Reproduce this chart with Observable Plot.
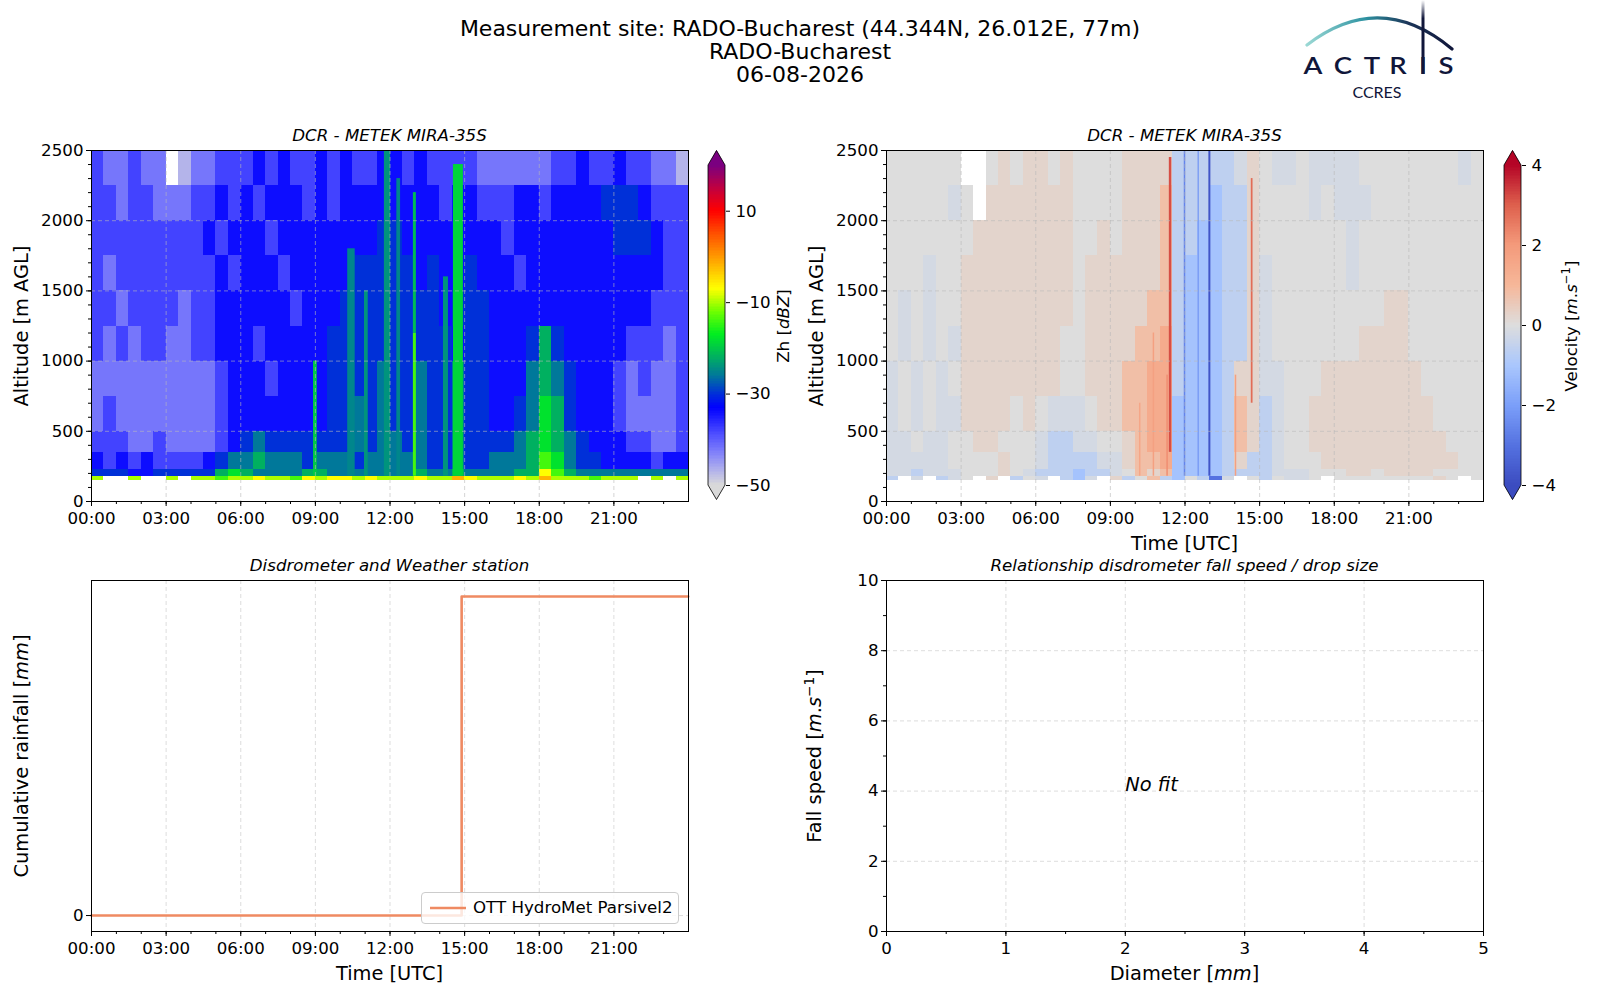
<!DOCTYPE html>
<html>
<head>
<meta charset="utf-8">
<script src="https://cdn.jsdelivr.net/npm/d3@7"></script>
<script src="https://cdn.jsdelivr.net/npm/@observablehq/plot@0.6"></script>
<style>
html,body{margin:0;padding:0;background:#fff;}
#root{position:relative;width:1600px;height:1000px;overflow:hidden;font-family:"DejaVu Sans",sans-serif;color:#000;}
#root svg{max-width:none;}
.lbl{position:absolute;white-space:nowrap;line-height:1;}
sup{font-size:0.7em;vertical-align:0.55em;line-height:0;}
</style>
</head>
<body>
<div id="root"></div>
<script>
// ================= DATA =================
const titleLines = ["Measurement site: RADO-Bucharest (44.344N, 26.012E, 77m)", "RADO-Bucharest", "06-08-2026"];
const radarTitle = "DCR - METEK MIRA-35S";
const rainTitle = "Disdrometer and Weather station";
const fitTitle = "Relationship disdrometer fall speed / drop size";
const logoLetters = ["A", "C", "T", "R", "I", "S"];
const logoSub = "CCRES";

// radar grid: 48 half-hour columns, altitude bands (m AGL)
const timeStep = 0.5;
const altitudeEdges = [150, 180, 230, 350, 500, 750, 1000, 1250, 1500, 1750, 2000, 2250, 2500];

// reflectivity codes (dBZ); "." = no signal
const zhCodes = {a: -47, b: -42, c: -38, d: -34, e: -30, f: -26, g: -22, h: -18, i: -14, j: -10, k: -7, l: -2};
// rows from top (2250-2500 m) to bottom (150-180 m); groups of 3 h
const zhRows = [
  "cbbcbb .abbcc cdcdcc dcdccd dcdccc cbbbbb bccdcc dccbba",
  "ccbccb bbccdc dcdddc dcdddd ddddcd dcccdd cdddde eedccc",
  "cccccc cccdcd ddcddd ddddde eddddd dddcdd dddddd eeedcc",
  "cbcccc ccccdc dddcdd dddeee eededd edddcd dddddd ddddcc",
  "ccbccc cbccdd ddddcd ddeeee eeeede eedddd dddddd dddccc",
  "cbcbcc bbccdd dcdddd deeeee eeeeed eeddde gedddd dcccbc",
  "bbbbbb bbbbcd ddcddd deeeef eefeef eedddf gfeddd cbcbbc",
  "bcbbbb bbbbcd dddddd deefef eefeef eeddef hgeddd cbbbbc",
  "cccbbc bbbbcd efeeee eeefef fefeef eeeefg hgfedd dccbbc",
  "dcdcdc cccdef fgfffe fffeff fffeef eefffg ihfeed dddcdd",
  "eeedde eeeegh gffffg gfffff ffgffg ffffgg kigfff ffffff",
  "j..j.. j.jjij jkjjik jkkjkj jjkjjl kjjjkj ljjjij jj.j.j"
];
// narrow reflectivity streaks: centre time (h), width (h), base (m), top (m), dBZ
const zhStreakTime   = [9.0,  10.45, 11.05, 11.9, 12.35, 13.0, 13.0, 14.25, 14.75];
const zhStreakWidth  = [0.15, 0.3,   0.15,  0.25, 0.15,  0.12, 0.12, 0.2,   0.4];
const zhStreakBase   = [180,  180,   180,   180,  180,   180,  1200, 180,   180];
const zhStreakTop    = [1000, 1800,  1500,  2500, 2300,  1200, 2200, 1600,  2400];
const zhStreakValue  = [-20,  -25,   -24,   -24,  -25,   -14,  -21,  -24,   -19];

// Doppler velocity codes (m/s)
const velCodes = {A: -4, B: -3, C: -2, D: -1.1, E: -0.6, F: -0.2, G: 0, H: 0.25, I: 0.8, J: 1.4, K: 2.2, L: 3, M: 4};
const velRows = [
  "GGGGGG ..GHGH HGHGGG GHHHHE EEEEFH GFFGFF FFGGGG GGGGFG",
  "GGGGGF G.HHHH HHHGGG GHHHIE EEDEEH GGGGFG FFFGGG GGGGGG",
  "GGGGGG GHHHHH HHHGGH GHHHIE EDDEEH GGGGGG GFGGGG GGGGGG",
  "GGGFGG HHHHHH HHHGHH HHHHIE DDDEEH FGGGGG GFGGGG GGGGGG",
  "GFGFGG HHHHHH HHHGHH HHHIIE DDDEEH FGGGGG GGGGHH GGGGGG",
  "GFGFGF HHHHHH HHGGHH HHIIJE DDDEEH FGGGGG GGHHHH GGGGGG",
  "FGFGFG HHHHHH HHGGHH HIIJJE DDDEHH FFGGGH HHHHHH HGGGGG",
  "FGFGFF HHHHGH GFFFGH HIIJJD DDDEIH EFGGHH HHHHHH HHGGGG",
  "FFGFFG GHHGGG FEEFFG GHIJJD DDDEIH EFGGHH HHHHHH HHHGGG",
  "FFFFFG GGGHGG FEEEEF FHIIJD DDDEHE EFGGGH HHHHHH HHHHGG",
  "FFEFFF GGGHGF EEEDEE FGIHID DDDEEE EFFFGG GHHGHH HHGGGG",
  "E.F.EF G.H.EG F.EDF. HEGIED GEBF.G EGFFG. GGGGGG GGHG.G"
];
// narrow velocity streaks: centre time (h), width (h), base (m), top (m), m/s
const velStreakTime  = [11.42, 11.3, 10.75, 10.2, 13.0, 12.0, 12.55, 14.7, 14.05];
const velStreakWidth = [0.1,   0.06, 0.06,  0.06, 0.08, 0.06, 0.05,  0.07, 0.06];
const velStreakBase  = [350,   180,  180,   180,  180,  180,  180,   700,  180];
const velStreakTop   = [2450,  900,  1200,  700,  2500, 2500, 2500,  2300, 900];
const velStreakValue = [3.2,   2.2,  1.8,   1.6,  -3.8, -2.6, -2.2,  2.8,  1.8];

// colour maps
const zhStops  = [-50, -47, -43, -39, -35, -33, -30, -26, -22, -17, -12, -9, -7, 0, 5, 10, 15, 20];
const zhColors = ["#d9d9d9", "#b4b4ea", "#8282fa", "#5050ff", "#1a1aff", "#0000ff", "#0030d8", "#00789a", "#00b060",
                  "#00ee20", "#70ff00", "#c8ff00", "#ffff00", "#ff9800", "#ff5000", "#ff0000", "#c00040", "#7a0080"];
const velStops  = [-4, -3, -2, -1, 0, 1, 2, 3, 4];
const velColors = ["#3b4cc0", "#5572e1", "#7b9ff9", "#aac7fd", "#dddddd", "#f6b799", "#f49a7b", "#de604d", "#b40426"];
const zhTicks = [-50, -30, -10, 10];
const velTicks = [-4, -2, 0, 2, 4];

// axes ticks
const hourTicks = [0, 3, 6, 9, 12, 15, 18, 21];
const hourMinor = [0,1,2,3,4,5,6,7,8,9,10,11,12,13,14,15,16,17,18,19,20,21,22,23];
const altTicks = [0, 500, 1000, 1500, 2000, 2500];
const altGrid = [500, 1000, 1500, 2000];
const altMinorStep = 100;
const diamTicks = [0, 1, 2, 3, 4, 5];
const diamMinor = [0, 0.5, 1, 1.5, 2, 2.5, 3, 3.5, 4, 4.5, 5];
const speedTicks = [0, 2, 4, 6, 8, 10];
const speedMinor = [0, 1, 2, 3, 4, 5, 6, 7, 8, 9, 10];

// cumulative rainfall (mm)
const rainTime = [0, 14.88, 23.99];
const rainCum  = [0, 0.2, 0.2];
const rainLabel = "OTT HydroMet Parsivel2";
const rainColor = "#ef8a62";

// fall-speed panel annotation
const noFitText = "No fit";
const noFitDiameter = 2;
const noFitSpeed = 4;

// ================= HELPERS =================
const root = document.getElementById("root");
const FONT = '"DejaVu Sans", sans-serif';
const TICK_FS = 16.67, LABEL_FS = 19.4;
const hourFmt = d => String(d).padStart(2, "0") + ":00";
const numFmt = d => (d < 0 ? "\u2212" + (-d) : String(d));

function place(el, left, top) {
  el.style.position = "absolute";
  el.style.left = left + "px";
  el.style.top = top + "px";
  root.appendChild(el);
  return el;
}
function label(html, cx, cy, size, opts = {}) {
  const d = document.createElement("div");
  d.className = "lbl";
  d.innerHTML = html;
  d.style.left = cx + "px";
  d.style.top = cy + "px";
  d.style.fontSize = size + "px";
  d.style.fontStyle = opts.italic ? "italic" : "normal";
  d.style.transform = "translate(-50%,-50%)" + (opts.rotate ? " rotate(-90deg)" : "");
  root.appendChild(d);
  return d;
}

function cellsFrom(rows, codes) {
  const cells = [];
  const n = rows.length;
  rows.forEach((row, r) => {
    const s = row.replace(/ /g, "");
    const k = n - 1 - r;
    const a1 = altitudeEdges[k], a2 = altitudeEdges[k + 1];
    for (let i = 0; i < s.length; i++) {
      const ch = s[i];
      if (!(ch in codes)) continue;
      cells.push({t1: i * timeStep, t2: (i + 1) * timeStep, a1, a2, v: codes[ch]});
    }
  });
  return cells;
}
function streaksFrom(time, width, base, top, value) {
  return time.map((tc, i) => ({t1: tc - width[i] / 2, t2: tc + width[i] / 2, a1: base[i], a2: top[i], v: value[i]}));
}

function makeInterp(stops, colors) {
  const s = d3.scaleLinear().domain(stops).range(colors).interpolate(d3.interpolateRgb).clamp(true);
  const lo = stops[0], hi = stops[stops.length - 1];
  return t => s(lo + t * (hi - lo));
}
const zhInterp = makeInterp(zhStops, zhColors);
const velInterp = makeInterp(velStops, velColors);

const baseStyle = {fontFamily: FONT, fontSize: TICK_FS + "px", color: "black", background: "transparent", overflow: "visible"};
const gridHeat = {stroke: "#b8b8b8", strokeOpacity: 0.75, strokeDasharray: "4,3", strokeWidth: 0.8};
const gridPlain = {stroke: "#d4d4d4", strokeOpacity: 1, strokeDasharray: "4,3", strokeWidth: 0.8};
const altMinor = [];
for (let a = 0; a <= 2500; a += altMinorStep) altMinor.push(a);

function heatPlot(cells, streaks, lo, hi, interp) {
  return Plot.plot({
    width: 700, height: 431,
    marginLeft: 91, marginRight: 12, marginTop: 40, marginBottom: 40,
    style: baseStyle,
    x: {domain: [0, 24]},
    y: {domain: [0, 2500]},
    color: {type: "linear", domain: [lo, hi], interpolate: interp},
    marks: [
      Plot.rect(cells, {x1: "t1", x2: "t2", y1: "a1", y2: "a2", fill: "v", shapeRendering: "crispEdges"}),
      Plot.rect(streaks, {x1: "t1", x2: "t2", y1: "a1", y2: "a2", fill: "v"}),
      Plot.gridX(hourTicks.slice(1), gridHeat),
      Plot.gridY(altGrid, gridHeat),
      Plot.axisX(hourMinor, {tickSize: 3, fill: "none", label: null}),
      Plot.axisX(hourTicks, {tickSize: 5, tickPadding: 6, tickFormat: hourFmt, label: null}),
      Plot.axisY(altMinor, {tickSize: 3, fill: "none", label: null}),
      Plot.axisY(altTicks, {tickSize: 5, tickPadding: 3, tickFormat: numFmt, label: null}),
      Plot.frame({stroke: "black", strokeWidth: 1})
    ]
  });
}

function colorbar(lo, hi, interp, ticks, left, top) {
  const n = 200;
  const bands = [];
  for (let i = 0; i < n; i++) bands.push({v1: lo + (hi - lo) * i / n, v2: lo + (hi - lo) * (i + 1) / n});
  const bw = 17, tri = 15, H = 350;
  const svg = Plot.plot({
    width: 80, height: H,
    marginLeft: 0, marginRight: 80 - bw, marginTop: tri, marginBottom: tri,
    style: baseStyle,
    x: {domain: [0, 1], axis: null},
    y: {domain: [lo, hi]},
    color: {type: "linear", domain: [lo, hi], interpolate: interp},
    marks: [
      Plot.rect(bands, {x1: () => 0, x2: () => 1, y1: "v1", y2: "v2", fill: d => (d.v1 + d.v2) / 2, shapeRendering: "crispEdges"}),
      Plot.axisY(ticks, {anchor: "right", tickSize: 4, tickPadding: 6, tickFormat: numFmt, label: null})
    ]
  });
  const s = d3.select(svg);
  s.append("polygon").attr("points", `0,${tri} ${bw},${tri} ${bw / 2},0`).attr("fill", interp(1));
  s.append("polygon").attr("points", `0,${H - tri} ${bw},${H - tri} ${bw / 2},${H}`).attr("fill", interp(0));
  s.append("polygon")
    .attr("points", `0,${tri} ${bw / 2},0.5 ${bw},${tri} ${bw},${H - tri} ${bw / 2},${H - 0.5} 0,${H - tri}`)
    .attr("fill", "none").attr("stroke", "black").attr("stroke-width", 0.8);
  place(svg, left, top);
}

// ================= TITLE & LOGO =================
const t = document.createElement("div");
t.innerHTML = titleLines.join("<br>");
Object.assign(t.style, {width: "1600px", textAlign: "center", fontSize: "22px", lineHeight: "23px"});
place(t, 0, 17);

const logoX = [33, 63, 92, 118, 143, 166];
const logo = document.createElementNS("http://www.w3.org/2000/svg", "svg");
logo.setAttribute("width", "200");
logo.setAttribute("height", "110");
logo.innerHTML = `
 <defs>
  <linearGradient id="arcg" x1="0" x2="1" y1="0" y2="0">
   <stop offset="0" stop-color="#9ad8d4"/><stop offset="0.4" stop-color="#2f93a2"/>
   <stop offset="0.7" stop-color="#1c3558"/><stop offset="1" stop-color="#10163a"/></linearGradient>
  <linearGradient id="barg" x1="0" x2="0" y1="0" y2="1">
   <stop offset="0" stop-color="#ffffff"/><stop offset="0.25" stop-color="#10163a"/></linearGradient>
 </defs>
 <path d="M27,45 Q100,-11 172,49" stroke="url(#arcg)" stroke-width="3.2" fill="none" stroke-linecap="round"/>
 <rect x="141.5" y="0" width="3" height="74" fill="url(#barg)"/>
 ${logoLetters.map((c, i) => `<text transform="translate(${logoX[i]},74) scale(1.25,1)" text-anchor="middle" font-family="Lato, 'Open Sans', sans-serif" font-weight="600" font-size="22" fill="#10163a">${c}</text>`).join("")}
 <text x="97" y="98" text-anchor="middle" font-family="Lato, 'Open Sans', sans-serif" font-size="16" fill="#10163a">${logoSub}</text>`;
place(logo, 1280, 0);

// ================= PANEL 1 : reflectivity =================
const zhLo = zhStops[0], zhHi = zhStops[zhStops.length - 1];
place(heatPlot(cellsFrom(zhRows, zhCodes),
               streaksFrom(zhStreakTime, zhStreakWidth, zhStreakBase, zhStreakTop, zhStreakValue),
               zhLo, zhHi, zhInterp), 0, 110);
colorbar(zhLo, zhHi, zhInterp, zhTicks, 708, 150);
label(radarTitle, 389.5, 136, TICK_FS, {italic: true});
label("Altitude [m AGL]", 22, 325.5, LABEL_FS, {rotate: true});
label("Zh [<i>dBZ</i>]", 784, 325.5, TICK_FS, {rotate: true});

// ================= PANEL 2 : velocity =================
const vLo = velStops[0], vHi = velStops[velStops.length - 1];
place(heatPlot(cellsFrom(velRows, velCodes),
               streaksFrom(velStreakTime, velStreakWidth, velStreakBase, velStreakTop, velStreakValue),
               vLo, vHi, velInterp), 795, 110);
colorbar(vLo, vHi, velInterp, velTicks, 1504, 150);
label(radarTitle, 1184.5, 136, TICK_FS, {italic: true});
label("Altitude [m AGL]", 817, 325.5, LABEL_FS, {rotate: true});
label("Time [UTC]", 1184.5, 544, LABEL_FS);
label("Velocity [<i>m</i>.<i>s</i><sup>\u22121</sup>]", 1572, 325.5, TICK_FS, {rotate: true});

// ================= PANEL 3 : cumulative rainfall =================
const rainTable = rainTime.map((tt, i) => ({t: tt, mm: rainCum[i]}));
const rainMax = d3.max(rainCum);
const p3 = Plot.plot({
  width: 700, height: 441,
  marginLeft: 91, marginRight: 12, marginTop: 40, marginBottom: 50,
  style: baseStyle,
  x: {domain: [0, 24]},
  y: {domain: [-0.05 * rainMax, 1.05 * rainMax]},
  marks: [
    Plot.gridX(hourTicks.slice(1), gridPlain),
    Plot.gridY([0], gridPlain),
    Plot.line(rainTable, {x: "t", y: "mm", curve: "step-after", stroke: rainColor, strokeWidth: 2.6}),
    Plot.axisX(hourMinor, {tickSize: 3, fill: "none", label: null}),
    Plot.axisX(hourTicks, {tickSize: 5, tickPadding: 6, tickFormat: hourFmt, label: null}),
    Plot.axisY([0], {tickSize: 5, tickPadding: 3, tickFormat: numFmt, label: null}),
    Plot.frame({stroke: "black", strokeWidth: 1})
  ]
});
place(p3, 0, 540);
label(rainTitle, 389.5, 566, TICK_FS, {italic: true});
label("Cumulative rainfall [<i>mm</i>]", 22, 755.5, LABEL_FS, {rotate: true});
label("Time [UTC]", 389.5, 974, LABEL_FS);

const leg = document.createElement("div");
Object.assign(leg.style, {width: "256px", height: "30px", border: "1px solid #cccccc", borderRadius: "4px",
  background: "rgba(255,255,255,0.8)", boxSizing: "content-box"});
leg.innerHTML = `<svg width="44" height="30" style="position:absolute;left:0;top:0"><line x1="8" x2="44" y1="15" y2="15" stroke="${rainColor}" stroke-width="2.6"/></svg>
 <div class="lbl" style="left:51px;top:15px;transform:translateY(-50%);font-size:${TICK_FS}px">${rainLabel}</div>`;
place(leg, 421, 892);

// ================= PANEL 4 : fall speed vs diameter =================
const p4 = Plot.plot({
  width: 700, height: 441,
  marginLeft: 91, marginRight: 12, marginTop: 40, marginBottom: 50,
  style: baseStyle,
  x: {domain: [0, 5]},
  y: {domain: [0, 10]},
  marks: [
    Plot.gridX(diamTicks.slice(1, -1), gridPlain),
    Plot.gridY(speedTicks.slice(1, -1), gridPlain),
    Plot.text([noFitText], {x: () => noFitDiameter, y: () => noFitSpeed, text: d => d, textAnchor: "start",
      lineAnchor: "bottom", fontStyle: "italic", fontSize: LABEL_FS, fill: "black"}),
    Plot.axisX(diamMinor, {tickSize: 3, fill: "none", label: null}),
    Plot.axisX(diamTicks, {tickSize: 5, tickPadding: 6, tickFormat: numFmt, label: null}),
    Plot.axisY(speedMinor, {tickSize: 3, fill: "none", label: null}),
    Plot.axisY(speedTicks, {tickSize: 5, tickPadding: 3, tickFormat: numFmt, label: null}),
    Plot.frame({stroke: "black", strokeWidth: 1})
  ]
});
place(p4, 795, 540);
label(fitTitle, 1184.5, 566, TICK_FS, {italic: true});
label("Fall speed [<i>m</i>.<i>s</i><sup>\u22121</sup>]", 815, 755.5, LABEL_FS, {rotate: true});
label("Diameter [<i>mm</i>]", 1184.5, 974, LABEL_FS);
</script>
</body>
</html>
